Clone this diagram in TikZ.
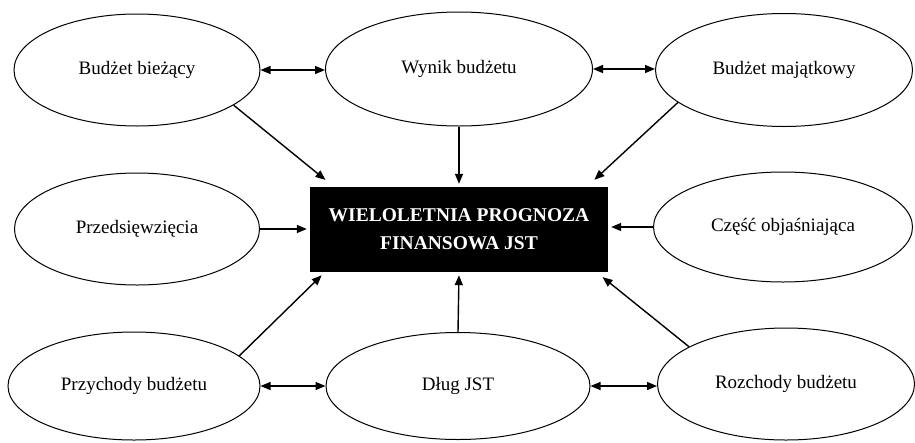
\documentclass[tikz,border=0pt]{standalone}
\usepackage{fontspec}
\setmainfont{Liberation Serif}
\usetikzlibrary{shapes.geometric,arrows.meta}
\begin{document}
\begin{tikzpicture}[x=1pt,y=-1pt,
  oval/.style={ellipse,draw,line width=1pt,inner sep=0pt,font=\fontsize{19}{23}\selectfont},
  core/.style={fill=black,text=white,font=\bfseries\fontsize{19.5}{28}\selectfont,align=center,
    minimum width=298pt,minimum height=85pt,inner sep=0pt},
  tip/.tip={Triangle[length=10pt,width=8pt]},
  link/.style={line width=1.4pt,-tip,shorten >=3pt},
  both/.style={line width=1.4pt,tip-tip}]
\useasboundingbox[fill=white] (0,0) rectangle (915,442);

% central box
\node[core] (box) at (459,229.5) {WIELOLETNIA PROGNOZA\\FINANSOWA JST};

% surrounding ovals
\node[oval,minimum width=246pt,minimum height=112pt] (bz) at (137,70)  {Budżet bieżący};
\node[oval,minimum width=267pt,minimum height=114pt] (wy) at (459,69)  {Wynik budżetu};
\node[oval,minimum width=257pt,minimum height=113pt] (mj) at (784,70)  {Budżet majątkowy};
\node[oval,minimum width=245pt,minimum height=112pt] (pr) at (137,229) {Przedsięwzięcia};
\node[oval,minimum width=259pt,minimum height=110pt] (cz) at (783,227) {Część objaśniająca};
\node[oval,minimum width=252pt,minimum height=108pt] (py) at (134,386) {Przychody budżetu};
\node[oval,minimum width=264pt,minimum height=107pt] (dl) at (458,386) {Dług JST};
\node[oval,minimum width=257pt,minimum height=112pt] (rz) at (786,384) {Rozchody budżetu};

% links between neighbouring ovals
\draw[both] (bz.east) -- (bz.east -| wy.west);
\draw[both] (wy.east) -- (wy.east -| mj.west);
\draw[both] (py.east) -- (py.east -| dl.west);
\draw[both] (dl.east) -- (dl.east -| rz.west);

% links into the central box
\draw[link] (bz.-20) -- ([xshift=18pt,yshift=5pt]box.north west);
\draw[link] (wy.south) -- (box.north);
\draw[link] (mj.-163) -- ([xshift=-16pt,yshift=5pt]box.north east);
\draw[link] (pr.east) -- (pr.east -| box.west);
\draw[link] (cz.west) -- (cz.west -| box.east);
\draw[link] (py.16) -- ([xshift=14pt,yshift=-1pt]box.south west);
\draw[link] (dl.north) -- (box.south);
\draw[link] (rz.159) -- ([xshift=-8pt,yshift=-3pt]box.south east);
\end{tikzpicture}
\end{document}
